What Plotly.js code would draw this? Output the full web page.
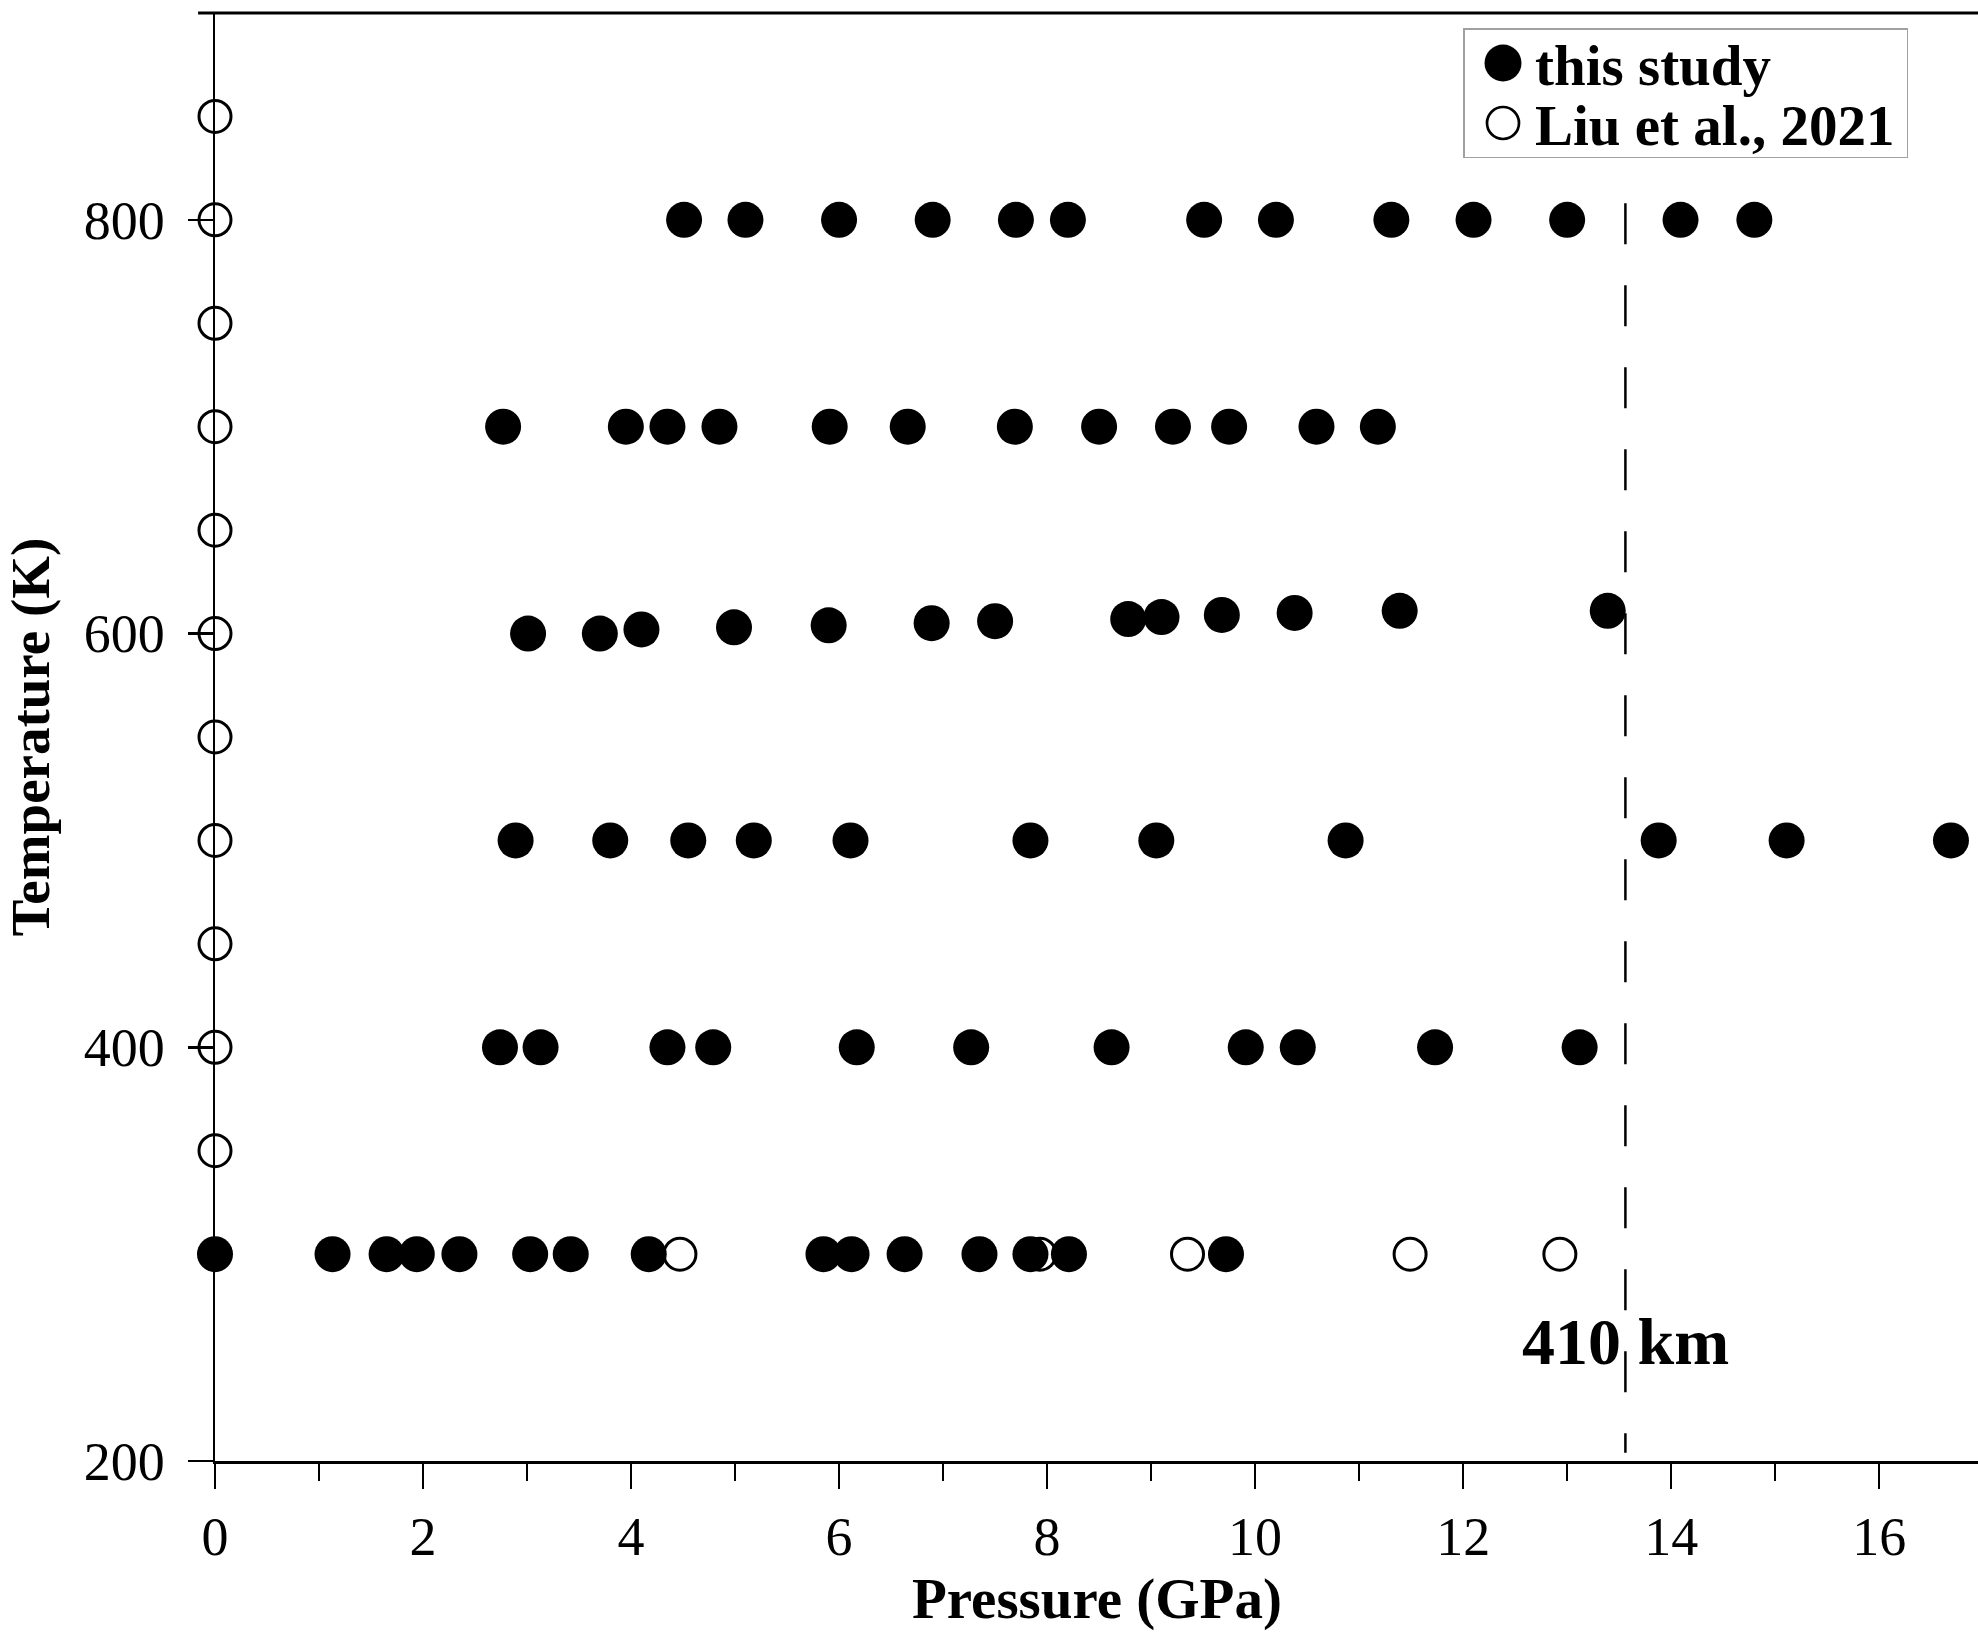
<!DOCTYPE html>
<html>
<head>
<meta charset="utf-8">
<script src="https://cdn.plot.ly/plotly-3.0.1.min.js"></script>
<style>
html,body{margin:0;padding:0;background:#fff;}
#chart{width:1978px;height:1635px;}
</style>
</head>
<body>
<div id="chart"></div>
<script>
// ---- data ----
const studyP800 = [4.51, 5.10, 6.00, 6.90, 7.70, 8.20, 9.51, 10.20, 11.31, 12.10, 13.00, 14.09, 14.80];
const studyT800 = [800, 800, 800, 800, 800, 800, 800, 800, 800, 800, 800, 800, 800];
const studyP700 = [2.77, 3.95, 4.35, 4.85, 5.91, 6.66, 7.69, 8.50, 9.21, 9.75, 10.59, 11.18];
const studyT700 = [700, 700, 700, 700, 700, 700, 700, 700, 700, 700, 700, 700];
const studyP600 = [3.01, 3.70, 4.10, 4.99, 5.90, 6.89, 7.50, 8.78, 9.10, 9.68, 10.38, 11.39, 13.39];
const studyT600 = [600, 600, 602, 603, 604, 605, 606, 607, 608, 609, 610, 611, 611];
const studyP500 = [2.89, 3.80, 4.55, 5.18, 6.11, 7.84, 9.05, 10.87, 13.88, 15.11, 16.69];
const studyT500 = [500, 500, 500, 500, 500, 500, 500, 500, 500, 500, 500];
const studyP400 = [2.74, 3.13, 4.35, 4.79, 6.17, 7.27, 8.62, 9.91, 10.41, 11.73, 13.12];
const studyT400 = [400, 400, 400, 400, 400, 400, 400, 400, 400, 400, 400];
const studyP300 = [0, 1.13, 1.65, 1.94, 2.35, 3.03, 3.42, 4.17, 5.85, 6.12, 6.63, 7.35, 7.84, 8.21, 9.72];
const studyT300 = [300, 300, 300, 300, 300, 300, 300, 300, 300, 300, 300, 300, 300, 300, 300];

const liuP = [0, 0, 0, 0, 0, 0, 0, 0, 0, 0, 0, 4.47, 7.93, 9.35, 11.49, 12.93];
const liuT = [350, 400, 450, 500, 550, 600, 650, 700, 750, 800, 850, 300, 300, 300, 300, 300];

const seriesNames = ['this study', 'Liu et al., 2021'];
const xTickVals = [0, 2, 4, 6, 8, 10, 12, 14, 16];
const xMinorVals = [1, 3, 5, 7, 9, 11, 13, 15];
const yTickVals = [200, 400, 600, 800];
const xTitle = 'Pressure (GPa)';
const yTitle = 'Temperature (K)';
const boundaryP = 13.56;
const boundaryT = [808, 204];
const boundaryLabel = '410 km';
const boundaryLabelT = 258;

const studyP = [].concat(studyP800, studyP700, studyP600, studyP500, studyP400, studyP300);
const studyT = [].concat(studyT800, studyT700, studyT600, studyT500, studyT400, studyT300);

// ---- styling / placement (not data) ----
const FONT = '"Liberation Serif","Times New Roman",Times,serif';
const LEG = {left: 1463, top: 28, width: 445, height: 130, rows: [63, 123], markerX: 1503, textX: 1535, radii: [18.5, 16]};
const XLABEL_CENTER_Y = 1537;

const traces = [
  {
    type: 'scatter', mode: 'markers', name: seriesNames[1], legendrank: 2,
    x: liuP, y: liuT, cliponaxis: false,
    marker: {symbol: 'circle-open', size: 32, color: '#000', line: {width: 3, color: '#000'}}
  },
  {
    type: 'scatter', mode: 'markers', name: seriesNames[0], legendrank: 1,
    x: studyP, y: studyT, cliponaxis: false,
    marker: {symbol: 'circle', size: 36, color: '#000', line: {width: 0}}
  }
];

const axisCommon = {
  showline: true, linewidth: 2.5, linecolor: '#000',
  ticks: 'outside', ticklen: 25, tickwidth: 2.5, tickcolor: '#000',
  showgrid: false, zeroline: false, fixedrange: true,
  tickfont: {family: FONT, size: 54, color: '#000'}
};

const layout = {
  width: 1978, height: 1635,
  margin: {l: 215, r: 0, t: 13, b: 174, pad: 0},
  paper_bgcolor: '#fff', plot_bgcolor: '#fff',
  font: {family: FONT, color: '#000', size: 54},
  showlegend: true,
  legend: {
    x: 0.708, y: 0.9896, xanchor: 'left', yanchor: 'top',
    bgcolor: '#fff', bordercolor: '#a0a0a0', borderwidth: 1.5,
    font: {family: FONT, size: 57, color: '#000', weight: 700},
    itemclick: false, itemdoubleclick: false
  },
  xaxis: Object.assign({}, axisCommon, {
    range: [0, 16.95], tickmode: 'array', tickvals: xTickVals,
    ticklabelstandoff: 10,
    minor: {tickmode: 'array', tickvals: xMinorVals, ticks: 'outside', ticklen: 17, tickwidth: 2.5, tickcolor: '#000', showgrid: false}
  }),
  yaxis: Object.assign({}, axisCommon, {
    range: [200, 900], tickmode: 'array', tickvals: yTickVals,
    ticklabelstandoff: 12,
    title: {text: yTitle, font: {family: FONT, size: 55, weight: 700, color: '#000'}, standoff: 21}
  }),
  shapes: [
    {type: 'line', xref: 'paper', yref: 'paper', x0: -0.0096, x1: 1, y0: 1, y1: 1,
     line: {color: '#000', width: 3}},
    {type: 'line', xref: 'x', yref: 'y', x0: boundaryP, x1: boundaryP, y0: boundaryT[0], y1: boundaryT[1],
     line: {color: '#000', width: 2.5, dash: '41px,41px'}}
  ],
  annotations: [
    {xref: 'x', yref: 'y', x: boundaryP, y: boundaryLabelT, text: boundaryLabel, showarrow: false,
     xanchor: 'center', yanchor: 'middle',
     font: {family: FONT, size: 66, weight: 700, color: '#000'}},
    {xref: 'paper', yref: 'paper', x: 0.5, y: -0.0950, text: xTitle, showarrow: false,
     xanchor: 'center', yanchor: 'middle',
     font: {family: FONT, size: 57, weight: 700, color: '#000'}}
  ]
};

function circlePath(r) {
  return 'M' + r + ',0A' + r + ',' + r + ' 0 1,1 0,-' + r + 'A' + r + ',' + r + ' 0 0,1 ' + r + ',0Z';
}

function shiftTranslate(el, dx, dy) {
  const t = el.getAttribute('transform') || '';
  const m = /translate\(\s*([-\d.eE]+)(?:[\s,]+([-\d.eE]+))?\s*\)/.exec(t);
  let a = 0, b = 0, rest = t;
  if (m) {
    a = parseFloat(m[1]); b = m[2] !== undefined ? parseFloat(m[2]) : 0;
    rest = t.replace(m[0], '');
  }
  el.setAttribute('transform', 'translate(' + (a + dx) + ',' + (b + dy) + ')' + rest);
}

// adjust the x tick label standoff so the labels sit where the reference has them
function calibrateXLabels(gd) {
  const lab = gd.querySelector('.xtick text');
  if (!lab) return Promise.resolve(gd);
  const r = lab.getBoundingClientRect();
  const delta = XLABEL_CENTER_Y - (r.top + r.height / 2);
  if (Math.abs(delta) < 1) return Promise.resolve(gd);
  const cur = gd._fullLayout.xaxis.ticklabelstandoff || 0;
  const next = Math.max(0, Math.round(cur + delta));
  return Plotly.relayout(gd, {'xaxis.ticklabelstandoff': next});
}

function fixLegend(gd) {
  const leg = gd.querySelector('.legend');
  if (!leg) return gd;
  const sb = leg.querySelector('.scrollbox');
  if (sb) sb.removeAttribute('clip-path');
  const bg = leg.querySelector('rect.bg');
  if (bg) {
    const bw = 1.5;
    const r = bg.getBoundingClientRect();
    const x0 = parseFloat(bg.getAttribute('x') || 0), y0 = parseFloat(bg.getAttribute('y') || 0);
    bg.setAttribute('x', x0 + (LEG.left + bw / 2 - r.left));
    bg.setAttribute('y', y0 + (LEG.top + bw / 2 - r.top));
    bg.setAttribute('width', LEG.width - bw);
    bg.setAttribute('height', LEG.height - bw);
  }
  leg.querySelectorAll('.traces').forEach(function (g) {
    const txt = g.querySelector('.legendtext');
    const idx = seriesNames.indexOf(txt ? txt.textContent : '');
    if (idx < 0) return;
    const pts = g.querySelectorAll('.legendpoints path.scatterpts');
    pts.forEach(function (p) {
      p.setAttribute('d', circlePath(LEG.radii[idx]));
      if (idx === 1) p.style.strokeWidth = '2.7px';
    });
    if (!pts.length) return;
    let r = pts[0].getBoundingClientRect();
    shiftTranslate(g, 0, LEG.rows[idx] - (r.top + r.height / 2));
    r = pts[0].getBoundingClientRect();
    const dx = LEG.markerX - (r.left + r.width / 2);
    pts.forEach(function (p) { shiftTranslate(p, dx, 0); });
    const tr = txt.getBoundingClientRect();
    shiftTranslate(txt, LEG.textX - tr.left, 0);
  });
  return gd;
}

Plotly.newPlot('chart', traces, layout, {displayModeBar: false, staticPlot: true})
  .then(calibrateXLabels)
  .then(calibrateXLabels)
  .then(fixLegend);
</script>
</body>
</html>
